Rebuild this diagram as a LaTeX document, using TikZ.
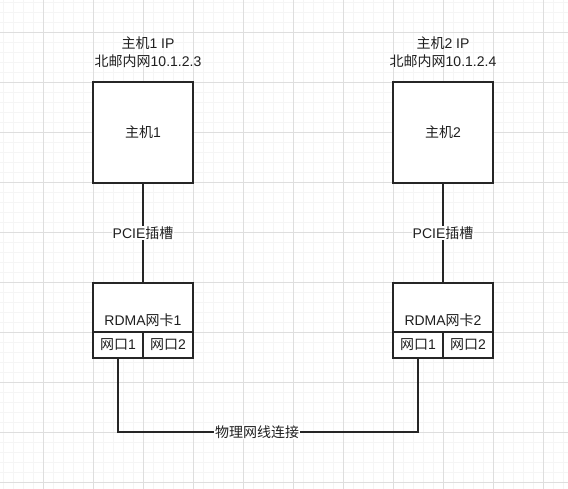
\documentclass[tikz,border=0pt]{standalone}
\usepackage{fontspec}
\setmainfont{Liberation Sans}
\newfontfamily\cjk{Noto Sans CJK SC}
\newcommand\zh[1]{{\cjk #1}}
\begin{document}
\begin{tikzpicture}[x=1pt,y=-1pt,
  every node/.style={font=\fontsize{14}{18}\selectfont, text=black!88, inner sep=0pt},
  minorline/.style={draw=black!4, line width=0.5pt},
  majorline/.style={draw=black!13, line width=0.5pt},
  boxnode/.style={draw=black!85, line width=1.3pt, fill=white, minimum width=100pt, minimum height=101pt},
  cardnode/.style={draw=black!85, line width=1.3pt, fill=white, minimum width=100pt, minimum height=75pt},
  portnode/.style={draw=black!85, line width=1.3pt, minimum width=50pt, minimum height=26pt},
  wire/.style={draw=black!85, line width=1.3pt},
  lbl/.style={fill=white, inner sep=1pt}]
\useasboundingbox (0,0) rectangle (568,489);
\fill[white] (0,0) rectangle (568,489);
\foreach \x in {3,13,...,563} \draw[minorline] (\x,0) -- (\x,489);
\foreach \y in {2,12,...,482} \draw[minorline] (0,\y) -- (568,\y);
\foreach \x in {43,93,...,543} \draw[majorline] (\x,0) -- (\x,489);
\foreach \y in {32,82,...,482} \draw[majorline] (0,\y) -- (568,\y);

% hosts
\node[boxnode] (h1) at (143,132.5) {\zh{主机}1};
\node[boxnode] (h2) at (443,132.5) {\zh{主机}2};
\node[align=center] (t1) at (148,52) {\zh{主机}1 IP\\\zh{北邮内网}10.1.2.3};
\node[align=center] (t2) at (443,52) {\zh{主机}2 IP\\\zh{北邮内网}10.1.2.4};

% cards
\node[cardnode] (c1) at (143,320.5) {};
\node[cardnode] (c2) at (443,320.5) {};
\node (c1t) at (143,320) {RDMA\zh{网卡}1};
\node (c2t) at (443,320) {RDMA\zh{网卡}2};
\node[portnode] (p11) at (118,345) {\zh{网口}1};
\node[portnode] (p12) at (168,345) {\zh{网口}2};
\node[portnode] (p21) at (418,345) {\zh{网口}1};
\node[portnode] (p22) at (468,345) {\zh{网口}2};

% PCIE connectors
\draw[wire] (h1.south) -- (c1.north);
\draw[wire] (h2.south) -- (c2.north);
\node[lbl] (pc1) at (143,233) {PCIE\zh{插槽}};
\node[lbl] (pc2) at (443,233) {PCIE\zh{插槽}};

% physical cable
\coordinate (k1) at (118,432);
\coordinate (k2) at (418,432);
\draw[wire] (p11.south) -- (k1) -- (k2) -- (p21.south);
\node[lbl] (phy) at (257,432) {\zh{物理网线连接}};
\end{tikzpicture}
\end{document}
